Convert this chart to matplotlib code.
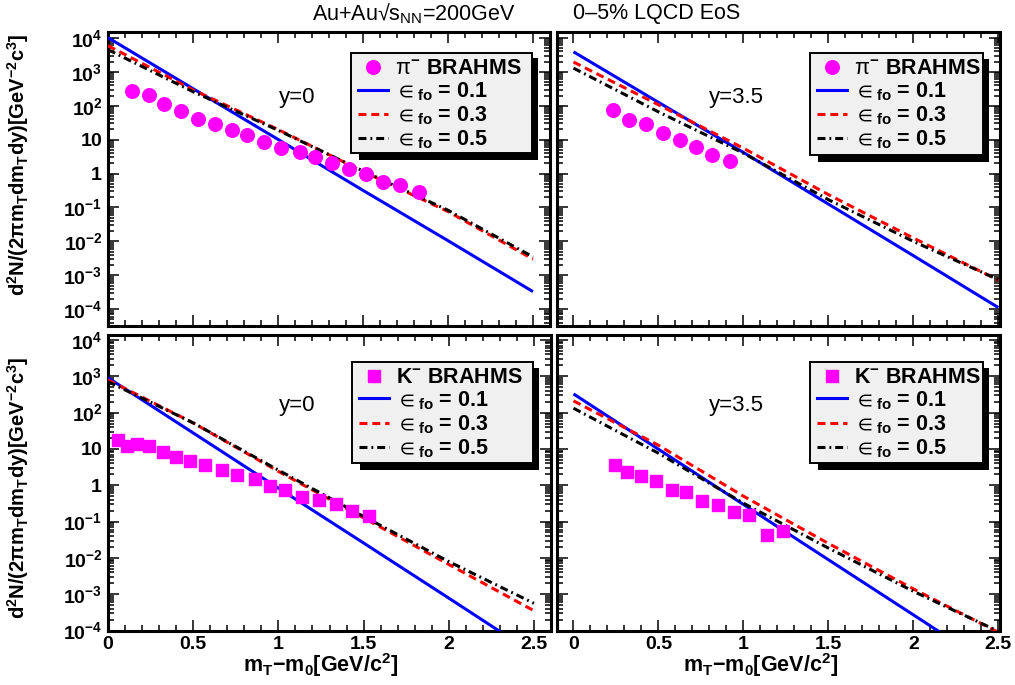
import numpy as np
import matplotlib
matplotlib.use('Agg')
import matplotlib.pyplot as plt
from matplotlib.ticker import LogLocator, MultipleLocator, NullFormatter
from matplotlib.patches import Rectangle
from matplotlib.lines import Line2D

plt.rcParams['font.family'] = ['Liberation Sans', 'DejaVu Sans']
plt.rcParams['mathtext.fontset'] = 'custom'
plt.rcParams['mathtext.rm'] = 'Liberation Sans'
plt.rcParams['mathtext.it'] = 'Liberation Sans'
plt.rcParams['mathtext.bf'] = 'Liberation Sans:bold'
plt.rcParams['mathtext.sf'] = 'Liberation Sans'
plt.rcParams['mathtext.fallback'] = 'stixsans'

# ---------------- data ----------------
model_mt = [0.0, 0.5, 1.0, 1.5, 2.0, 2.5]

# pi- , y=0
pi_y0_mt = [0.14, 0.24, 0.33, 0.43, 0.53, 0.63, 0.73, 0.82, 0.92, 1.02,
            1.13, 1.22, 1.32, 1.42, 1.52, 1.62, 1.72, 1.83]
pi_y0_val = [279, 208, 113, 72, 41, 29, 19.3, 13.8, 8.7, 5.8,
             4.4, 3.0, 2.0, 1.37, 0.97, 0.55, 0.46, 0.29]
pi_y0_e01 = [1.02e4, 3.2e2, 10.2, 0.32, 1.05e-2, 3.3e-4]
pi_y0_e03 = [5.9e3, 2.95e2, 20, 1.15, 7.6e-2, 3.0e-3]
pi_y0_e05 = [4.5e3, 2.6e2, 19, 1.2, 8.3e-2, 3.5e-3]

# pi- , y=3.5
pi_y35_mt = [0.235, 0.325, 0.424, 0.525, 0.624, 0.72, 0.818, 0.92]
pi_y35_val = [77, 39, 29, 15.7, 10, 6.2, 3.6, 2.4]
pi_y35_e01 = [3.9e3, 1.26e2, 4.2, 0.126, 3.8e-3, 1.12e-4]
pi_y35_e03 = [1.95e3, 1.07e2, 5.6, 0.24, 1.26e-2, 7.2e-4]
pi_y35_e05 = [1.29e3, 66, 4.0, 0.17, 1.0e-2, 7.5e-4]

# K- , y=0
k_y0_mt = [0.06, 0.11, 0.17, 0.24, 0.32, 0.40, 0.48, 0.57, 0.67, 0.76,
           0.86, 0.95, 1.04, 1.14, 1.24, 1.34, 1.43, 1.53]
k_y0_val = [17.8, 11.7, 13.5, 11.7, 8.1, 5.9, 4.7, 3.66, 2.66, 1.86,
            1.51, 0.97, 0.75, 0.47, 0.40, 0.30, 0.19, 0.139]
k_y0_e01 = [9.1e2, 27.5, 0.83, 2.57e-2, 7.8e-4, 2.3e-5]
k_y0_e03 = [7.9e2, 52, 2.4, 0.126, 6.6e-3, 3.5e-4]
k_y0_e05 = [7.1e2, 52, 2.6, 0.138, 7.9e-3, 5.6e-4]

# K- , y=3.5
k_y35_mt = [0.245, 0.314, 0.398, 0.486, 0.578, 0.663, 0.755, 0.853, 0.947,
            1.035, 1.137, 1.235]
k_y35_val = [3.66, 2.30, 1.75, 1.27, 0.72, 0.65, 0.36, 0.29, 0.18, 0.148,
             0.042, 0.054]
k_y35_e01 = [3.27e2, 9.8, 0.295, 8.9e-3, 2.7e-4, 8.1e-6]
k_y35_e03 = [2.1e2, 12.6, 0.5, 2.5e-2, 1.4e-3, 8.9e-5]
k_y35_e05 = [1.32e2, 7.6, 0.32, 1.86e-2, 1.2e-3, 9.5e-5]

ytick_vals = [1e-4, 1e-3, 1e-2, 1e-1, 1, 10, 1e2, 1e3, 1e4]
ytick_labels = [r'$\mathbf{10^{-4}}$', r'$\mathbf{10^{-3}}$', r'$\mathbf{10^{-2}}$',
                r'$\mathbf{10^{-1}}$', r'$\mathbf{1}$', r'$\mathbf{10}$',
                r'$\mathbf{10^{2}}$', r'$\mathbf{10^{3}}$', r'$\mathbf{10^{4}}$']
xtick_vals = [0, 0.5, 1, 1.5, 2, 2.5]
xtick_labels = ['0', '0.5', '1', '1.5', '2', '2.5']

eps_labels = [r'$\in_{\mathbf{fo}}$ = 0.1', r'$\in_{\mathbf{fo}}$ = 0.3',
              r'$\in_{\mathbf{fo}}$ = 0.5']
pi_label = r'$\pi^{\mathbf{-}}$ BRAHMS'
k_label = r'$\mathbf{K^{-}}$ BRAHMS'
ylabel_text = r'$\mathbf{d^{2}N/(2\pi m_{T}dm_{T}dy)[GeV^{-2}c^{3}]}$'
xlabel_text = r'$\mathbf{m_{T}{-}m_{0}[GeV/c^{2}]}$'
title_left = 'Au+Au\u221a$s_{NN}$=200GeV'
title_right = '0\u20135% LQCD EoS'

# ---------------- figure ----------------
W, H = 1015, 685
fig = plt.figure(figsize=(W / 100, H / 100), dpi=100)


def fx(px):
    return px / W


def fy(py):
    return 1 - py / H


def make_ax(l, t, r, b):
    return fig.add_axes([fx(l), fy(b), (r - l) / W, (b - t) / H])


ax_tl = make_ax(108, 31.5, 550, 325.5)
ax_tr = make_ax(556.5, 31.5, 999.5, 325.5)
ax_bl = make_ax(108, 334.5, 551, 630.5)
ax_br = make_ax(556.5, 334.5, 999.5, 630.5)

BLUE = '#0000ff'
RED = '#ff0000'
MAG = '#ff00ff'
LW = 2.2
red_ls = (0, (2.6, 1.6))
blk_ls = (0, (2.6, 1.3, 0.6, 1.3))

panels = [
    (ax_tl, pi_y0_mt, pi_y0_val, 'o', pi_y0_e01, pi_y0_e03, pi_y0_e05, (0, 2.6),
     (10 ** -4.48, 10 ** 4.19), True, False, 'y=0', (297, 98), (351, 52.5, 532, 153), pi_label),
    (ax_tr, pi_y35_mt, pi_y35_val, 'o', pi_y35_e01, pi_y35_e03, pi_y35_e05, (-0.1, 2.507),
     (10 ** -4.48, 10 ** 4.19), False, False, 'y=3.5', (736, 98), (810, 53, 983, 155), pi_label),
    (ax_bl, k_y0_mt, k_y0_val, 's', k_y0_e01, k_y0_e03, k_y0_e05, (0, 2.6),
     (1e-4, 10 ** 4.15), True, True, 'y=0', (297, 406), (351.5, 361.5, 533, 463), k_label),
    (ax_br, k_y35_mt, k_y35_val, 's', k_y35_e01, k_y35_e03, k_y35_e05, (-0.1, 2.507),
     (1e-4, 10 ** 4.15), False, True, 'y=3.5', (736, 406), (810, 361.5, 983, 463), k_label),
]

for (ax, dx, dy, mk, e1, e3, e5, xl, yl, showy, showx, ytxt, ypos, lbox, dlabel) in panels:
    ax.set_yscale('log')
    ax.plot(model_mt, e1, color=BLUE, lw=LW, zorder=3, solid_capstyle='butt')
    ax.plot(model_mt, e3, color=RED, lw=LW, ls=red_ls, zorder=3)
    ax.plot(model_mt, e5, color='black', lw=LW, ls=blk_ls, zorder=4)
    ms = 9.8 if mk == 'o' else 8.8
    ax.plot(dx, dy, ls='none', marker=mk, ms=ms, color=MAG, mec=MAG, zorder=5)
    for s in ax.spines.values():
        s.set_linewidth(2.2)
    ax.set_yticks(ytick_vals)
    ax.set_yticklabels(ytick_labels if showy else [])
    ax.yaxis.set_minor_locator(LogLocator(base=10, subs=np.arange(2, 10), numticks=100))
    ax.yaxis.set_minor_formatter(NullFormatter())
    ax.set_xticks(xtick_vals)
    ax.set_xticklabels(xtick_labels if showx else [])
    ax.xaxis.set_minor_locator(MultipleLocator(0.1))
    ax.tick_params(which='both', direction='in', top=True, right=True, width=1.1,
                   labelsize=14, pad=4)
    ax.tick_params(which='major', length=8)
    ax.tick_params(which='minor', length=4.5)
    for lab in ax.get_xticklabels():
        lab.set_fontweight('bold')
    ax.set_ylim(*yl)
    ax.set_xlim(*xl)
    fig.text(fx(ypos[0]), fy(ypos[1]), ytxt, fontsize=16, ha='center', va='center')

    # legend box (ROOT style with shadow)
    x0, y0, x1, y1 = lbox
    shadow = Rectangle((fx(x0 + 8), fy(y1 + 7)), (x1 - x0 - 2) / W, (y1 - y0 + 1) / H,
                       transform=fig.transFigure, facecolor='black', edgecolor='none', zorder=10)
    box = Rectangle((fx(x0), fy(y1)), (x1 - x0) / W, (y1 - y0) / H,
                    transform=fig.transFigure, facecolor='#f0f0f0', edgecolor='black',
                    lw=1.4, zorder=11)
    fig.add_artist(shadow)
    fig.add_artist(box)
    rows = [y0 + 14, y0 + 37, y0 + 61, y0 + 85]
    fig.add_artist(Line2D([fx(x0 + 22)], [fy(rows[0])], transform=fig.transFigure,
                          marker=mk, ms=ms, color=MAG, ls='none', zorder=12))
    fig.text(fx(x0 + 44), fy(rows[0] + 7.5), dlabel, fontsize=15.5, fontweight='bold',
             ha='left', va='baseline', zorder=12)
    styles = [(BLUE, '-'), (RED, red_ls), ('black', blk_ls)]
    for i, (c, ls) in enumerate(styles):
        r = rows[i + 1]
        fig.add_artist(Line2D([fx(x0 + 7), fx(x0 + 37)], [fy(r), fy(r)],
                              transform=fig.transFigure, color=c, lw=LW, ls=ls, zorder=12))
        fig.text(fx(x0 + 44), fy(r + 7.5), eps_labels[i], fontsize=15.5, fontweight='bold',
                 ha='left', va='baseline', zorder=12)

# axis titles
fig.text(fx(18), fy(165), ylabel_text, rotation=90, fontsize=14.5, ha='center', va='center')
fig.text(fx(18), fy(488), ylabel_text, rotation=90, fontsize=14.5, ha='center', va='center')
fig.text(fx(321), fy(665), xlabel_text, fontsize=15.5, ha='center', va='center')
fig.text(fx(761), fy(665), xlabel_text, fontsize=15.5, ha='center', va='center')

# title
fig.text(fx(312), fy(14), title_left, fontsize=15.5, ha='left', va='center')
fig.text(fx(573), fy(14), title_right, fontsize=15.5, ha='left', va='center')

fig.savefig('out.png', dpi=100)
